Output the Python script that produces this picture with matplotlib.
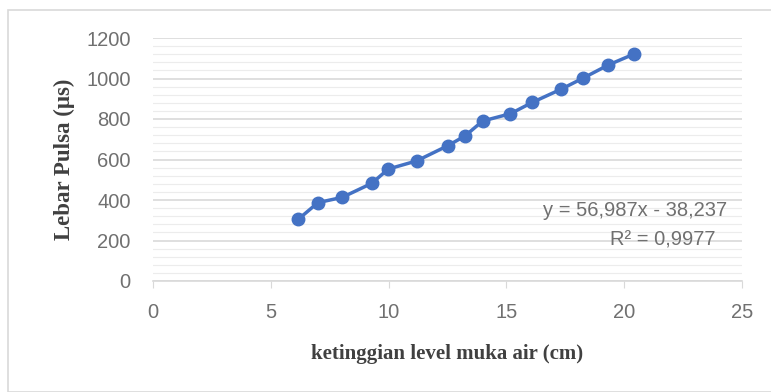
import matplotlib
matplotlib.use("Agg")
import matplotlib.pyplot as plt
from matplotlib.patches import Rectangle
from matplotlib.ticker import MultipleLocator

# data
tinggi = [6.17, 7.0, 8.03, 9.28, 9.99, 11.19, 12.51, 13.24, 13.99, 15.17, 16.1, 17.32, 18.24, 19.33, 20.42]
lebar = [305, 387, 413, 482, 553, 593, 668, 716, 790, 826, 882, 947, 1001, 1067, 1121]
persamaan = "y = 56,987x - 38,237"
r2 = "R² = 0,9977"

fig = plt.figure(figsize=(7.71, 3.92), dpi=100)
fig.patches.append(Rectangle((8/771, 0), 1, 1 - 10/392, transform=fig.transFigure,
                             fill=False, edgecolor="#d9d9d9", linewidth=1.2))
ax = fig.add_axes([153/771, 1 - 281/392, (742-153)/771, (281-38)/392])

ax.plot(tinggi, lebar, color="#4472C4", linewidth=2.5, marker="o", markersize=9,
        markerfacecolor="#4472C4", markeredgecolor="#4472C4", zorder=3)

ax.set_xlim(0, 25)
ax.set_ylim(0, 1200)
ax.xaxis.set_major_locator(MultipleLocator(5))
ax.yaxis.set_major_locator(MultipleLocator(200))
ax.yaxis.set_minor_locator(MultipleLocator(40))
ax.grid(True, which="major", axis="y", color="#d9d9d9", linewidth=1.2)
ax.grid(True, which="minor", axis="y", color="#ececec", linewidth=0.8)
ax.set_axisbelow(True)

for s in ["top", "right", "left"]:
    ax.spines[s].set_visible(False)
ax.spines["bottom"].set_color("#d9d9d9")
ax.spines["bottom"].set_linewidth(1.2)
ax.tick_params(axis="x", which="major", length=5, color="#d9d9d9", direction="out",
               labelsize=14.5, labelcolor="#707070", pad=11)
ax.tick_params(axis="y", which="both", length=0, labelsize=14.5, labelcolor="#707070", pad=16)
ax.tick_params(axis="x", which="minor", length=0)
for lab in ax.get_xticklabels() + ax.get_yticklabels():
    lab.set_family("Liberation Sans")

ax.set_xlabel("ketinggian level muka air (cm)", fontsize=15, fontweight="bold",
              family="Liberation Serif", color="#404040", labelpad=16)
ax.set_ylabel("Lebar Pulsa (μs)", fontsize=16.5, fontweight="bold",
              family="Liberation Serif", color="#404040", labelpad=8)

ax.text(727, 392 - 210, persamaan, transform=None, fontsize=14.5, color="#707070",
        ha="right", va="center", family="Liberation Sans")
ax.text(715, 392 - 240, r2, transform=None, fontsize=14.5, color="#707070",
        ha="right", va="center", family="Liberation Sans")

fig.savefig("out.png", dpi=100, facecolor="white")
